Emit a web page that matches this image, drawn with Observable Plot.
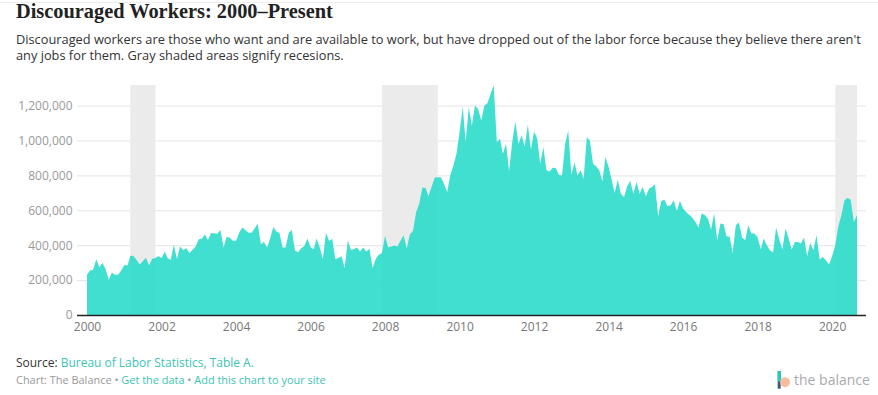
<!DOCTYPE html>
<html><head><meta charset="utf-8">
<script src="https://cdn.jsdelivr.net/npm/d3@7"></script>
<script src="https://cdn.jsdelivr.net/npm/@observablehq/plot@0.6"></script>
<style>
html,body{margin:0;padding:0;background:#fff}
body{width:878px;height:395px;position:relative;overflow:hidden;font-family:"Open Sans",sans-serif}
#topline{position:absolute;left:0;top:2px;width:878px;height:1px;background:#ededed}
.t{position:absolute;white-space:nowrap;line-height:1}
#title{left:16px;top:0.5px;font-family:"Liberation Serif",serif;font-weight:bold;font-size:20px;color:#222}
#sub1{left:16px;top:32.6px;font-size:14px;color:#333}
#sub2{left:16px;top:49.3px;font-size:14px;color:#333}
#chart{position:absolute;left:0;top:0}
#source{left:16px;top:357.3px;font-size:12px;color:#333}
#credit{left:16px;top:374.9px;font-size:11px;color:#999}
.link{color:#3cc4b4}
#logotext{left:794px;top:373px;font-size:13.5px;color:#aaa}
#logo{position:absolute;left:777px;top:370px}
#chart [aria-label^="x-axis"]{color:#777}
#chart [aria-label^="y-axis"]{color:#999}
</style>
</head><body>
<div id="topline"></div>
<div class="t" id="title">Discouraged Workers: 2000–Present</div>
<div class="t" id="sub1">Discouraged workers are those who want and are available to work, but have dropped out of the labor force because they believe there aren't</div>
<div class="t" id="sub2">any jobs for them. Gray shaded areas signify recesions.</div>
<div id="chart"></div>
<div class="t" id="source">Source: <span class="link">Bureau of Labor Statistics, Table A.</span></div>
<div class="t" id="credit">Chart: The Balance • <span class="link">Get the data</span> • <span class="link">Add this chart to your site</span></div>
<svg id="logo" width="16" height="20" viewBox="0 0 16 20">
  <rect x="0.7" y="1" width="3" height="17.7" fill="#3a5a78"/>
  <rect x="0.7" y="1" width="3" height="10.5" fill="#1fd1bd"/>
  <circle cx="8" cy="12.3" r="5" fill="#f7b79a" opacity="0.95"/>
</svg>
<div class="t" id="logotext">the balance</div>
<script>
// Monthly discouraged workers (thousands), Jan 2000 – Sep 2020
const startYear = 2000;
const workers2000 = [232,255,260,319,274,298,264,202,243,230,230,255];
const workers2001 = [287,283,340,338,315,289,308,328,283,323,326,338];
const workers2002 = [326,364,326,315,402,321,392,372,383,355,374,392];
const workers2003 = [434,438,462,430,470,468,466,487,387,449,443,425];
const workers2004 = [425,472,502,487,472,472,496,523,406,419,387,440];
const workers2005 = [504,477,472,387,387,472,487,368,360,383,396,438];
const workers2006 = [387,377,438,387,321,472,425,436,321,326,336,270];
const workers2007 = [428,372,377,387,364,387,364,379,270,321,345,355];
const workers2008 = [453,387,392,398,392,425,457,381,463,482,590,638];
const workers2009 = [730,728,682,733,787,790,790,752,705,800,857,924];
const workers2010 = [1048,1194,990,1190,1086,1200,1181,1114,1200,1213,1267,1318];
const workers2011 = [990,1010,924,981,825,990,1110,981,1029,966,1090,949];
const workers2012 = [1051,1010,867,962,829,823,844,843,802,800,981,1057];
const workers2013 = [804,876,800,829,781,1019,1000,867,851,829,766,905];
const workers2014 = [848,771,699,775,695,676,737,768,695,762,695,733];
const workers2015 = [680,724,733,749,566,653,661,623,629,657,596,653];
const workers2016 = [610,589,575,558,533,501,581,573,552,490,581,429];
const workers2017 = [524,520,451,448,356,514,530,444,429,514,467,467];
const workers2018 = [444,375,438,400,371,358,501,432,375,495,438,375];
const workers2019 = [419,419,410,444,337,413,371,457,318,333,314,290];
const workers2020 = [337,400,505,571,657,671,661,533,571];

const recessionStart = ["2001-03-01","2007-12-01","2020-02-01"];
const recessionEnd   = ["2001-11-01","2009-06-01","2020-09-01"];
const yTicks = [0,200000,400000,600000,800000,1000000,1200000];
const xTickYears = [2000,2002,2004,2006,2008,2010,2012,2014,2016,2018,2020];

const allYears = [workers2000,workers2001,workers2002,workers2003,workers2004,workers2005,workers2006,
  workers2007,workers2008,workers2009,workers2010,workers2011,workers2012,workers2013,workers2014,
  workers2015,workers2016,workers2017,workers2018,workers2019,workers2020];
const data = [];
allYears.forEach((arr, yi) => arr.forEach((v, m) => data.push({date: new Date(Date.UTC(startYear + yi, m, 1)), value: v * 1000})));
const maxVal = d3.max(data, d => d.value);
const recessions = recessionStart.map((s, i) => ({start: new Date(s + "T00:00:00Z"), end: new Date(recessionEnd[i] + "T00:00:00Z"), y1: 0, y2: maxVal}));

const chart = Plot.plot({
  width: 878, height: 345,
  marginLeft: 77, marginRight: 12, marginTop: 85, marginBottom: 30,
  x: {type: "utc", domain: [data[0].date, data[data.length-1].date], insetLeft: 10, insetRight: 9,
      ticks: xTickYears.map(y => new Date(Date.UTC(y,0,1))), tickFormat: d3.utcFormat("%Y"),
      tickSize: 0, tickPadding: 7, label: null},
  y: {domain: [0, maxVal], ticks: yTicks, tickFormat: d3.format(","), tickSize: 0, tickPadding: 5, label: null},
  style: {fontFamily: "'Open Sans', sans-serif", fontSize: "12px", color: "#999", background: "transparent", overflow: "visible"},
  marks: [
    Plot.ruleY(yTicks.slice(1), {stroke: "#e4e4e4", strokeWidth: 1}),
    Plot.rect(recessions, {x1: "start", x2: "end", y1: "y1", y2: "y2", fill: "#ebebeb"}),
    Plot.areaY(data, {x: "date", y: "value", fill: "#2bdccb", fillOpacity: 0.9}),
    Plot.ruleY([0], {stroke: "#222", strokeWidth: 1.3})
  ]
});
document.getElementById("chart").appendChild(chart);

function fit(id, target) {
  const el = document.getElementById(id);
  const w = el.getBoundingClientRect().width;
  const fs = parseFloat(getComputedStyle(el).fontSize);
  const nfs = fs * target / w;
  el.style.fontSize = nfs + "px";
  return nfs;
}
fit("title", 317);
const sfs = fit("sub1", 846);
document.getElementById("sub2").style.fontSize = sfs + "px";
fit("source", 238);
fit("credit", 310);
fit("logotext", 76);
</script>
</body></html>
